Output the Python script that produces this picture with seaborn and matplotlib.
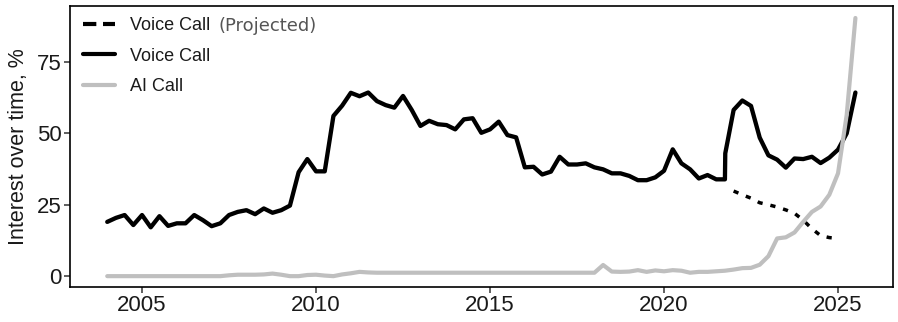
import numpy as np
import pandas as pd
import matplotlib
matplotlib.use("Agg")
import matplotlib.pyplot as plt
import seaborn as sns
from matplotlib.lines import Line2D

# ---------------- data (quarterly, starting 2004 Q1) ----------------
start_year = 2004.0
voice_call = [
    19.0, 20.4, 21.4, 17.9,   # 2004
    21.4, 17.1, 21.0, 17.6,   # 2005
    18.5, 18.5, 21.4, 19.6,   # 2006
    17.5, 18.5, 21.4, 22.5,   # 2007
    23.1, 21.7, 23.7, 22.2,   # 2008
    23.1, 24.7, 36.4, 41.0,   # 2009
    36.7, 36.7, 56.1, 59.7,   # 2010
    64.2, 63.0, 64.3, 61.3,   # 2011
    59.9, 59.0, 63.1, 58.2,   # 2012
    52.6, 54.4, 53.2, 52.9,   # 2013
    51.4, 54.9, 55.3, 50.2,   # 2014
    51.4, 54.1, 49.4, 48.6,   # 2015
    38.1, 38.3, 35.6, 36.6,   # 2016
    41.8, 39.1, 39.1, 39.5,   # 2017
    38.1, 37.4, 36.0, 36.0,   # 2018
    35.1, 33.6, 33.6, 34.6,   # 2019
    36.9, 44.4, 39.5, 37.4,   # 2020
    34.2, 35.4, 33.9, 33.9,   # 2021
    58.2, 61.5, 59.6, 48.5,   # 2022
    42.3, 40.8, 38.0, 41.2,   # 2023
    41.0, 41.8, 39.6, 41.5,   # 2024
    44.3, 50.0, 64.3,         # 2025
]
# series break point (data source change) right after 2021 Q4
break_year = 2021.76
break_value = 43.0

ai_call = [
    0, 0, 0, 0,               # 2004
    0, 0, 0, 0,               # 2005
    0, 0, 0, 0,               # 2006
    0, 0, 0.3, 0.5,           # 2007
    0.5, 0.5, 0.6, 0.9,       # 2008
    0.5, 0, 0, 0.4,           # 2009
    0.5, 0.2, 0, 0.6,         # 2010
    1.0, 1.5, 1.3, 1.2,       # 2011
    1.2, 1.2, 1.2, 1.2,       # 2012
    1.2, 1.2, 1.2, 1.2,       # 2013
    1.2, 1.2, 1.2, 1.2,       # 2014
    1.2, 1.2, 1.2, 1.2,       # 2015
    1.2, 1.2, 1.2, 1.2,       # 2016
    1.2, 1.2, 1.2, 1.2,       # 2017
    1.2, 3.9, 1.6, 1.5,       # 2018
    1.6, 2.1, 1.5, 2.0,       # 2019
    1.7, 2.1, 1.9, 1.2,       # 2020
    1.5, 1.5, 1.7, 1.9,       # 2021
    2.3, 2.8, 2.9, 4.0,       # 2022
    7.0, 13.2, 13.6, 15.3,    # 2023
    19.0, 22.5, 24.4, 28.5,   # 2024
    36.0, 56.5, 90.4,         # 2025
]

projected_start = 2022.0
voice_projected = [29.8, 28.5, 27.3, 25.7, 25.0, 24.2, 23.2, 22.0,
                   19.6, 16.6, 14.2, 13.5, 13.2]

x_ticks = [2005, 2010, 2015, 2020, 2025]
y_ticks = [0, 25, 50, 75]
y_label = "Interest over time, %"
legend_labels = ["Voice Call", "Voice Call", "AI Call"]
projected_suffix = "(Projected)"

# ---------------- frames ----------------
qx = start_year + np.arange(len(voice_call)) / 4
ins = int(np.searchsorted(qx, break_year))
df_voice = pd.DataFrame({"year": np.insert(qx, ins, break_year),
                         "value": np.insert(np.array(voice_call, float), ins, break_value)})
df_ai = pd.DataFrame({"year": start_year + np.arange(len(ai_call)) / 4,
                      "value": ai_call})
df_proj = pd.DataFrame({"year": projected_start + np.arange(len(voice_projected)) / 4,
                        "value": voice_projected})

# ---------------- style ----------------
sns.set_theme(style="white")
plt.rcParams['font.family'] = ['Liberation Sans', 'DejaVu Sans']

BLACK = "#000000"
GREY = "#bfbfbf"

fig, ax = plt.subplots(figsize=(8.98, 3.22), dpi=100)
fig.subplots_adjust(left=70/898, right=893/898, top=1-6/322, bottom=1-287/322)

sns.lineplot(data=df_voice, x="year", y="value", color=BLACK, linewidth=3.1,
             estimator=None, ax=ax)
sns.lineplot(data=df_proj, x="year", y="value", color=BLACK, linewidth=2.5,
             estimator=None, ax=ax)
proj_line = ax.lines[-1]
proj_line.set_linestyle((0, (1.5, 2.3)))
proj_line.set_dash_capstyle("butt")
sns.lineplot(data=df_ai, x="year", y="value", color=GREY, linewidth=3.0,
             estimator=None, ax=ax)

ax.set_xlim(2002.93, 2026.58)
ax.set_ylim(-3.8, 94.6)
ax.set_xticks(x_ticks)
ax.set_yticks(y_ticks)
ax.set_xlabel("")
ax.set_ylabel(y_label, fontsize=15.5, color="#1a1a1a")
ax.yaxis.set_label_coords(-0.05, 0.5)

ax.tick_params(axis="both", which="major", length=4, width=1.1, color="#333333",
               labelsize=16, labelcolor="#1a1a1a", pad=2, bottom=True, left=True)
for sp in ax.spines.values():
    sp.set_color(BLACK)
    sp.set_linewidth(1.2)

handles = [
    Line2D([], [], color=BLACK, linewidth=3.0, linestyle=(0, (3.2, 1.6)),
           dash_capstyle="butt"),
    Line2D([], [], color=BLACK, linewidth=3.0),
    Line2D([], [], color=GREY, linewidth=3.0),
]
leg = ax.legend(handles, legend_labels, loc="upper left",
                bbox_to_anchor=(13/823, 1 - 11/280.7), frameon=False,
                fontsize=13, handlelength=1.77, handletextpad=0.83,
                labelspacing=0.75, borderpad=0, borderaxespad=0)
for t in leg.get_texts():
    t.set_color("#1a1a1a")

fig.canvas.draw()
ax.annotate(projected_suffix, xy=(1, 0.5), xycoords=leg.get_texts()[0],
            xytext=(6, 0), textcoords="offset points", va="center", ha="left",
            fontsize=13, color="#555555", family="DejaVu Sans")

fig.savefig("out.png", dpi=100)
